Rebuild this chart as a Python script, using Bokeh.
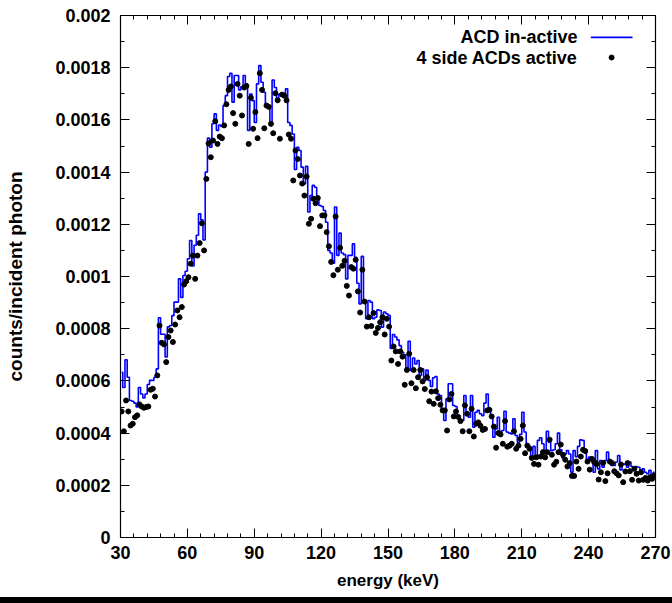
import numpy as np
from bokeh.plotting import figure
from bokeh.models import Range1d, FixedTicker, LinearAxis, Label, Spacer, CustomJSTickFormatter, ColumnDataSource
from bokeh.layouts import column
from bokeh.embed import file_html
from bokeh.resources import INLINE

# ---------------- data ----------------
bin_start_kev = 30.0
bin_width_kev = 1.0

# "ACD in-active" histogram, counts/incident photon in units of 1e-4, one value per 1 keV bin (30-270 keV)
acd_inactive_e4 = [
    6.33, 5.75, 6.81, 6.14, 5.25, 5.22, 5.15, 5.00, 5.75, 5.50,
    5.35, 5.50, 5.86, 6.02, 6.02, 6.14, 6.46, 8.42, 7.79, 7.79,
    6.92, 8.07, 8.12, 8.50, 9.02, 9.02, 9.91, 9.20, 10.04, 10.20,
    10.68, 11.38, 10.40, 11.20, 11.58, 12.40, 12.17, 11.40,
    14.00, 15.30, 14.95, 15.85, 16.23, 15.60, 15.80, 15.75, 16.55, 16.93,
    17.66, 17.79, 16.68, 17.70, 17.70, 17.15, 17.28, 17.70, 17.38, 15.60,
    16.99, 16.74, 15.90, 17.38, 18.08, 17.44, 17.06, 16.60, 16.55, 15.79,
    17.53, 17.24, 16.74, 16.99, 16.99, 16.86, 17.19, 15.90, 15.79, 15.46,
    14.10, 14.95, 14.83,
    14.19, 13.55, 14.22, 12.47, 13.10, 13.49, 13.42, 13.04, 12.72, 12.68,
    12.53, 12.08, 11.00, 10.90, 10.51, 12.66, 10.81, 11.66, 10.90, 10.84,
    9.91, 10.81, 10.81, 11.25, 10.74, 9.74, 8.95, 10.77, 9.08, 8.38,
    9.08, 9.02, 8.38, 8.44, 8.72, 8.70, 8.06, 8.64, 8.57, 8.51,
    7.24,
    7.78, 7.68, 7.57, 7.35, 7.10, 7.00, 6.40, 7.52, 6.40, 6.88,
    6.65, 6.78, 6.21, 6.46, 6.02, 6.42, 6.02, 5.79, 6.12, 6.17,
    5.50, 5.44, 4.93, 4.48, 5.31, 5.89, 5.89, 5.06, 5.02, 4.67,
    4.48, 4.48, 5.44, 4.74, 4.61, 5.44, 4.23, 4.80, 4.87, 4.74,
    4.67, 5.15, 5.50, 4.87, 4.61, 3.84, 4.16, 4.61, 4.04, 4.10,
    4.84, 4.04, 4.00, 3.97, 4.55, 3.91, 3.65, 3.95, 4.80, 4.04,
    3.59, 3.49, 3.08, 3.49, 3.14, 3.72, 3.82, 3.59, 3.33, 4.07,
    3.65, 3.33, 3.36, 3.59, 4.00, 3.36, 3.05, 3.20, 3.33, 3.20,
    2.50, 3.33, 3.10, 3.49, 3.74, 3.72, 3.33, 2.95, 3.08, 2.98,
    2.50, 3.33, 2.63, 2.95, 2.69, 2.95, 3.27, 2.89, 2.76, 2.76,
    2.89, 3.14, 2.59, 2.82, 2.80, 2.69, 2.89, 2.72, 2.63, 2.72,
    2.69, 2.57, 2.63, 2.50, 2.44, 2.57, 2.38, 2.50,
]

# "4 side ACDs active" points, same units and bins
side_acds_active_e4 = [
    4.83, 4.07, 5.25, 4.83, 4.29, 4.36, 4.61, 4.68, 5.10, 5.02,
    4.97, 5.00, 5.02, 5.66, 5.70, 5.40, 6.21, 8.12, 7.46, 7.40,
    6.72, 7.68, 7.93, 7.49, 8.16, 8.70, 8.44, 8.83, 9.69, 9.82,
    9.97, 10.49, 10.80, 9.91, 10.80, 11.28, 12.04, 11.00,
    13.74, 15.10, 14.57, 15.21, 15.95, 15.08, 15.36, 15.30, 15.79, 16.60,
    17.15, 17.28, 16.26, 15.85, 17.38, 16.93, 16.17, 17.24, 17.30, 15.08,
    16.85, 15.66, 16.30, 15.30, 17.79, 17.15, 15.68, 16.55, 16.50, 15.85,
    15.49, 17.02, 16.75, 15.28, 16.97, 16.93, 16.75, 15.44, 15.28, 13.68,
    14.83, 14.50,
    13.87, 13.56, 13.10, 13.83, 12.02, 12.21, 12.98, 12.81, 13.01, 11.93,
    12.34, 12.34, 11.70, 11.16, 10.56, 10.05, 12.30, 10.26, 11.10, 10.41,
    10.60, 9.64, 9.27, 10.36, 10.30, 10.64, 9.43, 8.62, 10.26, 9.04,
    8.08, 8.44, 8.10, 8.60, 7.84, 8.03, 8.25, 8.44, 7.78, 8.38,
    8.08, 6.78,
    7.32, 7.13, 6.65, 7.13, 6.93, 5.85, 6.42, 7.04, 5.91, 6.42,
    5.72, 6.14, 6.42, 5.98, 5.69, 6.14, 5.22, 5.59, 5.12, 5.60,
    5.34, 5.09, 4.87, 4.87, 4.10, 5.29, 5.50, 4.64, 4.83, 4.62,
    4.46, 4.07, 5.06, 4.74, 4.07, 4.93, 3.87, 4.36, 4.41, 4.28,
    4.12, 4.16, 4.87, 4.89, 4.64, 4.25, 3.44, 4.00, 3.95, 3.59,
    4.46, 3.48, 3.52, 3.59, 4.07, 3.40, 3.52, 3.78, 4.29, 3.23,
    3.52, 3.40, 3.05, 2.82, 3.07, 2.79, 3.10, 3.27, 3.07, 3.27,
    3.75, 3.17, 2.79, 2.90, 3.27, 3.56, 3.17, 2.98, 2.72, 2.85,
    2.36, 2.36, 2.91, 2.63, 3.10, 3.36, 3.31, 2.91, 2.60, 3.01,
    2.89, 2.82, 2.22, 2.50, 2.86, 2.16, 2.46, 2.91, 2.85, 2.54,
    2.46, 2.38, 2.80, 2.12, 2.53, 2.85, 2.54, 2.21, 2.63, 2.44,
    2.18, 2.50, 2.21, 2.28, 2.18, 2.31, 2.25, 2.38,
]

series_names = ["ACD in-active", "4 side ACDs active"]
x_ticks = [30, 60, 90, 120, 150, 180, 210, 240, 270]
x_tick_labels = ["30", "60", "90", "120", "150", "180", "210", "240", "270"]
y_ticks = [0.0, 0.0002, 0.0004, 0.0006, 0.0008, 0.001, 0.0012, 0.0014, 0.0016, 0.0018, 0.002]
y_tick_labels = ["0", "0.0002", "0.0004", "0.0006", "0.0008", "0.001", "0.0012",
                 "0.0014", "0.0016", "0.0018", "0.002"]

# ---------------- build ----------------
n = len(acd_inactive_e4)
centers = bin_start_kev + bin_width_kev * (np.arange(n) + 0.5)
src = ColumnDataSource(dict(
    e=centers,
    inactive=np.array(acd_inactive_e4) * 1e-4,
    active=np.array(side_acds_active_e4[:n]) * 1e-4,
))

FONT = "Liberation Sans"
FS = "18px"

p = figure(width=672, height=597,
           x_range=Range1d(30, 270), y_range=Range1d(0, 0.002),
           output_backend="svg", toolbar_location=None,
           min_border_left=120, min_border_right=17, min_border_top=15, min_border_bottom=60,
           x_axis_label="energy (keV)", y_axis_label="counts/incident photon")
p.background_fill_color = "white"
p.border_fill_color = "white"
p.outline_line_color = "black"
p.outline_line_width = 1.2
p.grid.visible = False

xt = FixedTicker(ticks=x_ticks, minor_ticks=list(np.arange(30, 271, 6)))
yt = FixedTicker(ticks=y_ticks, minor_ticks=[round(i * 0.0001, 6) for i in range(21)])

x_fmt = CustomJSTickFormatter(args=dict(tvals=x_ticks, tlabs=x_tick_labels),
    code="const i = tvals.findIndex(t => Math.abs(t - tick) < 1e-6); return i >= 0 ? tlabs[i] : '';")
y_fmt = CustomJSTickFormatter(args=dict(tvals=y_ticks, tlabs=y_tick_labels),
    code="const i = tvals.findIndex(t => Math.abs(t - tick) < 1e-9); return i >= 0 ? tlabs[i] : '';")
blank_fmt = CustomJSTickFormatter(code="return '';")

def style_axis(ax):
    ax.major_tick_in = 9
    ax.major_tick_out = 0
    ax.minor_tick_in = 4
    ax.minor_tick_out = 0
    ax.axis_line_color = "black"
    ax.major_tick_line_color = "black"
    ax.minor_tick_line_color = "black"
    ax.major_label_text_font = FONT
    ax.major_label_text_font_style = "bold"
    ax.major_label_text_font_size = FS
    ax.major_label_text_color = "black"
    ax.axis_label_text_font = FONT
    ax.axis_label_text_font_style = "bold"
    ax.axis_label_text_font_size = "17px"
    ax.axis_label_text_color = "black"

xa = p.xaxis[0]
ya = p.yaxis[0]
xa.ticker = xt
ya.ticker = yt
xa.formatter = x_fmt
ya.formatter = y_fmt
style_axis(xa)
style_axis(ya)
ya.axis_label_text_font_size = "19px"
xa.major_label_standoff = 8
xa.axis_label_standoff = 9
ya.major_label_standoff = 10
ya.axis_label_standoff = 26

top = LinearAxis(ticker=xt, formatter=blank_fmt)
right = LinearAxis(ticker=yt, formatter=blank_fmt)
for ax in (top, right):
    style_axis(ax)
    ax.major_label_standoff = 0
    ax.major_label_text_font_size = "0px"
p.add_layout(top, "above")
p.add_layout(right, "right")

p.step(x="e", y="inactive", source=src, mode="center", line_color="#0000ff", line_width=1.6)
p.scatter(x="e", y="active", source=src, marker="circle", size=5, fill_color="black", line_color="black")

# ---------------- key (gnuplot-style: text right-aligned, sample on the right) ----------------
key_text_x = 235.0
key_row_y = [0.001916, 0.001839]
key_line_x = [241.0, 259.7]
key_dot_x = 250.3
for name, ky in zip(series_names, key_row_y):
    p.add_layout(Label(x=key_text_x, y=ky, text=name, text_align="right", text_baseline="middle",
                       text_font=FONT, text_font_style="bold", text_font_size=FS, text_color="black"))
p.line(x=key_line_x, y=[key_row_y[0]] * 2, line_color="#0000ff", line_width=1.6)
p.scatter(x=[key_dot_x], y=[key_row_y[1]], marker="circle", size=5, fill_color="black", line_color="black")

bar = Spacer(width=672, height=6, styles={"background-color": "black", "height": "6px"})
layout = column(p, bar, spacing=0)

open("out.html", "w").write(file_html(layout, INLINE))
